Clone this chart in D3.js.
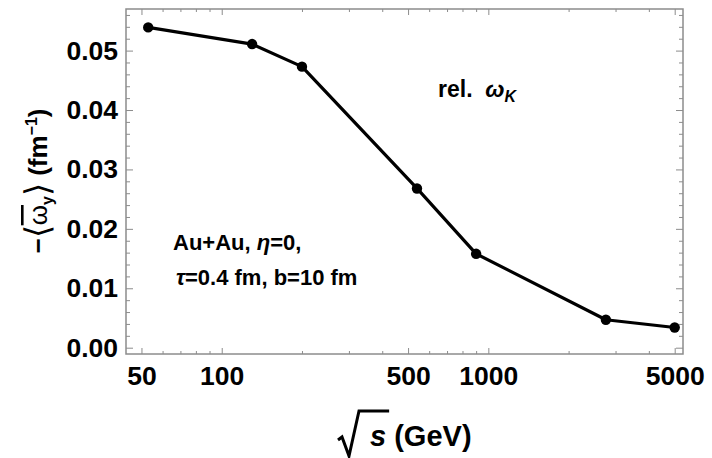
<!DOCTYPE html>
<html>
<head>
<meta charset="utf-8">
<script src="https://cdn.jsdelivr.net/npm/d3@7"></script>
<style>
  body { margin: 0; background: #fff; }
  text { font-family: "Liberation Sans", Arial, sans-serif; font-weight: bold; fill: #000; }
</style>
</head>
<body>
<div id="chart"></div>
<script>
// data
var energies = [53, 130, 200, 540, 900, 2760, 5000];      // sqrt(s) in GeV
var omegaY = [0.0539, 0.0511, 0.0473, 0.0268, 0.0158, 0.0047, 0.0034];
var xMajorTicks = [50, 100, 500, 1000, 5000];
var xMinorTicks = [60, 70, 80, 90, 200, 300, 400, 600, 700, 800, 900, 2000, 3000, 4000];
var yMajorTicks = [0.00, 0.01, 0.02, 0.03, 0.04, 0.05];
var yMinorTicks = [0.002, 0.004, 0.006, 0.008, 0.012, 0.014, 0.016, 0.018,
  0.022, 0.024, 0.026, 0.028, 0.032, 0.034, 0.036, 0.038,
  0.042, 0.044, 0.046, 0.048, 0.052, 0.054, 0.056];

// set parameters/spacing
var svgWidth = 712;
var svgHeight = 458;
var margin = { top: 9, right: 29, bottom: 104, left: 126 };
var width = svgWidth - margin.left - margin.right;
var height = svgHeight - margin.top - margin.bottom;

var svg = d3.select("#chart")
  .append("svg")
  .attr("width", svgWidth)
  .attr("height", svgHeight);

var chart = svg.append("g")
  .attr("transform", `translate(${margin.left}, ${margin.top})`);

// scales
var xScale = d3.scaleLog()
  .domain([43.75, 5372])
  .range([0, width]);

var yScale = d3.scaleLinear()
  .domain([-0.00106, 0.0570])
  .range([height, 0]);

var frameColor = "#8c8c8c";

// helper to style an axis group
function styleAxis(g) {
  g.select(".domain").remove();
  g.selectAll(".tick line").attr("stroke", frameColor).attr("stroke-width", 1);
  g.selectAll(".tick text").style("font-size", "26.5px").style("font-family", "'Liberation Sans', Arial, sans-serif")
    .style("font-weight", "bold").attr("fill", "#000");
}

// bottom axis (labelled) + minor
chart.append("g")
  .attr("transform", `translate(0, ${height})`)
  .call(d3.axisBottom(xScale).tickValues(xMajorTicks).tickFormat(d3.format("d"))
    .tickSizeInner(-6).tickSizeOuter(0).tickPadding(12))
  .call(styleAxis);
chart.append("g")
  .attr("transform", `translate(0, ${height})`)
  .call(d3.axisBottom(xScale).tickValues(xMinorTicks).tickFormat("").tickSizeInner(-3).tickSizeOuter(0))
  .call(styleAxis);

// top axis (mirrored)
chart.append("g")
  .call(d3.axisTop(xScale).tickValues(xMajorTicks).tickFormat("").tickSizeInner(-6).tickSizeOuter(0))
  .call(styleAxis);
chart.append("g")
  .call(d3.axisTop(xScale).tickValues(xMinorTicks).tickFormat("").tickSizeInner(-3).tickSizeOuter(0))
  .call(styleAxis);

// left axis (labelled) + minor
chart.append("g")
  .call(d3.axisLeft(yScale).tickValues(yMajorTicks).tickFormat(d3.format(".2f"))
    .tickSizeInner(-7).tickSizeOuter(0).tickPadding(8))
  .call(styleAxis);
chart.append("g")
  .call(d3.axisLeft(yScale).tickValues(yMinorTicks).tickFormat("").tickSizeInner(-4).tickSizeOuter(0))
  .call(styleAxis);

// right axis (mirrored)
chart.append("g")
  .attr("transform", `translate(${width}, 0)`)
  .call(d3.axisRight(yScale).tickValues(yMajorTicks).tickFormat("").tickSizeInner(-7).tickSizeOuter(0))
  .call(styleAxis);
chart.append("g")
  .attr("transform", `translate(${width}, 0)`)
  .call(d3.axisRight(yScale).tickValues(yMinorTicks).tickFormat("").tickSizeInner(-4).tickSizeOuter(0))
  .call(styleAxis);

// frame
chart.append("rect")
  .attr("x", 0).attr("y", 0)
  .attr("width", width).attr("height", height)
  .attr("fill", "none")
  .attr("stroke", frameColor)
  .attr("stroke-width", 1.5);

// line + markers
var points = energies.map((e, i) => ({ x: e, y: omegaY[i] }));

chart.append("path")
  .datum(points)
  .attr("fill", "none")
  .attr("stroke", "#000")
  .attr("stroke-width", 3.2)
  .attr("stroke-linejoin", "round")
  .attr("d", d3.line().x(d => xScale(d.x)).y(d => yScale(d.y)));

chart.selectAll("circle")
  .data(points)
  .enter()
  .append("circle")
  .attr("cx", d => xScale(d.x))
  .attr("cy", d => yScale(d.y))
  .attr("r", 5.2)
  .attr("fill", "#000");

// annotations
var rel = svg.append("text")
  .attr("x", 438)
  .attr("y", 97)
  .style("font-size", "23px");
rel.append("tspan").text("rel.\u00a0 ");
rel.append("tspan").style("font-style", "italic").text("\u03c9");
rel.append("tspan").style("font-style", "italic").style("font-size", "16px").attr("dy", 5).text("K");

var note1 = svg.append("text")
  .attr("x", 173)
  .attr("y", 250)
  .style("font-size", "22px");
note1.append("tspan").text("Au+Au, ");
note1.append("tspan").style("font-style", "italic").text("\u03b7");
note1.append("tspan").text("=0,");

var note2 = svg.append("text")
  .attr("x", 176)
  .attr("y", 285)
  .style("font-size", "22px");
note2.append("tspan").style("font-style", "italic").text("\u03c4");
note2.append("tspan").text("=0.4 fm, b=10 fm");

// y axis title
var yTitle = svg.append("text")
  .attr("transform", "translate(47, 181) rotate(-90)")
  .attr("text-anchor", "middle")
  .style("font-size", "26px");
yTitle.append("tspan").text("\u2212");
yTitle.append("tspan").style("font-size", "34px").style("font-weight", "normal").attr("dy", 2).text("\u27e8");
yTitle.append("tspan").style("font-weight", "normal").style("text-decoration", "overline").attr("dy", -2).text("\u03c9");
yTitle.append("tspan").style("font-size", "16px").attr("dy", 6).text("y");
yTitle.append("tspan").style("font-size", "34px").style("font-weight", "normal").attr("dy", -4).text("\u27e9");
yTitle.append("tspan").attr("dy", -2).text(" (fm");
yTitle.append("tspan").style("font-size", "16px").attr("dy", -10).text("\u22121");
yTitle.append("tspan").attr("dy", 10).text(")");

// x axis title: sqrt(s) (GeV)
var xTitle = svg.append("text")
  .attr("x", 370)
  .attr("y", 446)
  .style("font-size", "29px");
var sSpan = xTitle.append("tspan").style("font-style", "italic").text("s");
xTitle.append("tspan").text(" (GeV)");

var sLen = sSpan.node().getComputedTextLength();
svg.append("path")
  .attr("d", `M338,440 L342,437 L349,456 L359,411 L${370 + sLen + 3},411`)
  .attr("fill", "none")
  .attr("stroke", "#000")
  .attr("stroke-width", 3)
  .attr("stroke-linejoin", "miter");
</script>
</body>
</html>
